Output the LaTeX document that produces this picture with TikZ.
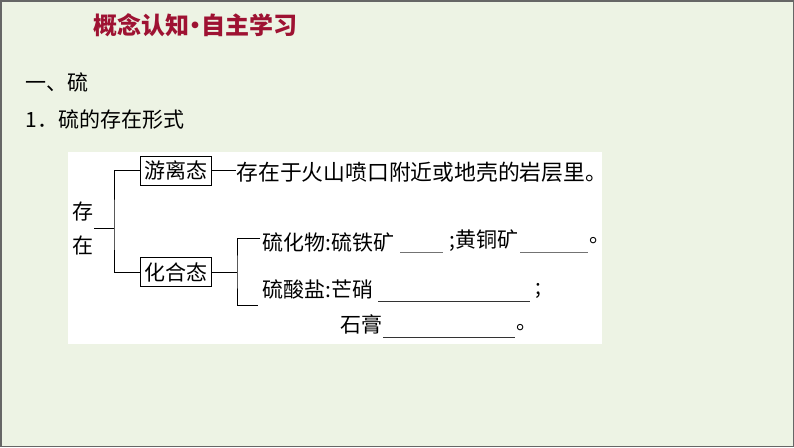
\documentclass[tikz,border=0pt]{standalone}
\usepackage{fontspec}
\setmainfont{Noto Sans CJK SC}
\usetikzlibrary{positioning}
\definecolor{bggreen}{HTML}{EDF3E4}
\definecolor{titlered}{HTML}{9E1232}
\tikzset{
  txt/.style={inner sep=0pt, anchor=west, font=\fontsize{21}{26}\selectfont},
  statebox/.style={draw, line width=1pt, inner xsep=4pt, inner ysep=3pt,
    minimum height=29pt, font=\fontsize{21}{26}\selectfont},
  blank/.style={draw=black!55, line width=1pt},
}
\begin{document}
\begin{tikzpicture}[x=1pt,y=-1pt,line width=1pt]
% page
\fill[bggreen] (0,0) rectangle (794,447);
\draw[black!60,line width=1.5pt] (0.75,0.75) rectangle (793.25,446.25);
\fill[white] (68,152) rectangle (602,344);
% headings
\node[font=\fontsize{24}{28}\selectfont\bfseries, text=titlered] (title) at (195,25)
  {概念认知\hspace{-6pt}·\hspace{-6pt}自主学习};
\node[txt] (sec) at (25,82) {一、硫};
\node[txt] (sub) at (25,120) {1．硫的存在形式};
% tree
\node[align=center, inner sep=0pt, font=\fontsize{21}{34}\selectfont] (exist) at (83,228) {存\\在};
\node[statebox] (free) at (176,170.5) {游离态};
\node[statebox] (comb) at (176,272) {化合态};
\coordinate (j1) at (114,228);
\coordinate (j2) at (237,272);
\draw (exist.east) -- (j1);
\draw (free.west) -| (j1) |- (comb.west);
\node[txt, font=\fontsize{21.8}{26}\selectfont] (freetxt) at (236,172) {存在于火山喷口附近或地壳的岩层里。};
\draw (free.east) -- (free.east -| freetxt.west);
% compounds
\node[txt] (sulfide) at (262,242) {硫化物:硫铁矿};
\node[txt] (sulfate) at (262,289) {硫酸盐:芒硝};
\coordinate (s1) at (260,238);
\coordinate (s2) at (258,305);
\draw (comb.east) -- (j2);
\draw (s1) -| (j2) |- (s2);
\draw[blank] (400,252) -- (443,252);
\node[txt] (chalco) at (449,241) {;黄铜矿};
\draw[blank] (520,252) -- (588,252);
\node[txt] (dot1) at (589,241) {。};
\draw[blank, draw=black!80] (378,301) -- (530,301);
\node[txt] (semi) at (535,291) {;};
\node[txt] (gypsum) at (340,324) {石膏};
\draw[blank, draw=black!80] (383,337) -- (515,337);
\node[txt] (dot2) at (516,328) {。};
\end{tikzpicture}
\end{document}
